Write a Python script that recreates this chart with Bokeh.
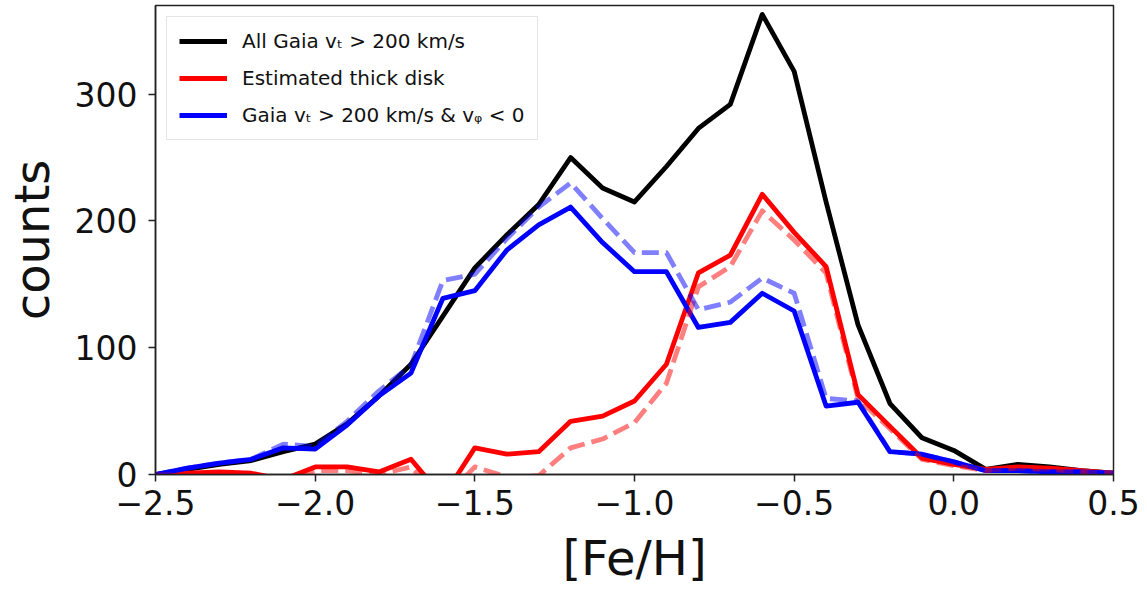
from bokeh.plotting import figure
from bokeh.models import Range1d, FixedTicker, Legend, LegendItem, ColumnDataSource
from bokeh.embed import file_html
from bokeh.resources import INLINE

# ---------------- data ----------------
feh = [round(-2.5 + 0.1 * i, 1) for i in range(31)]

all_gaia = [0, 4, 8, 11, 18, 24, 40, 62, 87, 125, 163, 189, 213, 250, 226, 215,
            243, 273, 292, 363, 318, 215, 118, 56, 29, 19, 4, 8, 6, 3, 1]

thick_disk = [0, 1, 2, 1, -4, 6, 6, 2, 12, -18, 21, 16, 18, 42, 46, 58,
              87, 159, 173, 221, 191, 164, 63, 38, 13, 8, 4, 6, 5, 3, 1]
thick_disk_alt = [0, 0, 1, 0, -5, 3, 3, 0, 6, -20, 6, -2, -1, 21, 28, 41,
                  72, 148, 164, 208, 185, 159, 60, 36, 12, 7, 3, 5, 4, 2, 1]

retro = [0, 5, 9, 12, 21, 20, 39, 62, 80, 139, 145, 177, 197, 211, 183, 160,
         160, 116, 120, 143, 129, 54, 57, 18, 16, 10, 3, 3, 2, 2, 1]
retro_alt = [0, 5, 9, 12, 24, 22, 42, 66, 86, 153, 158, 186, 211, 230, 202, 175,
             175, 130, 136, 155, 143, 60, 58, 18, 16, 10, 3, 3, 2, 2, 1]

x_ticks = [-2.5, -2.0, -1.5, -1.0, -0.5, 0.0, 0.5]
x_tick_labels = ["\u22122.5", "\u22122.0", "\u22121.5", "\u22121.0", "\u22120.5", "0.0", "0.5"]
y_ticks = [0, 100, 200, 300]

labels = ["All Gaia v\u209c > 200 km/s",
          "Estimated thick disk",
          "Gaia v\u209c > 200 km/s & v\u1d69 < 0"]

src = ColumnDataSource(dict(x=feh, all=all_gaia, td=thick_disk, td2=thick_disk_alt,
                            rt=retro, rt2=retro_alt))

# ---------------- figure ----------------
FONT = "DejaVu Sans"
p = figure(width=1147, height=595, output_backend="svg", toolbar_location=None,
           x_range=Range1d(-2.5, 0.5), y_range=Range1d(0, 370),
           min_border_left=154, min_border_right=34, min_border_top=5, min_border_bottom=121)
p.background_fill_color = "white"
p.border_fill_color = "white"
p.outline_line_color = "#222222"
p.outline_line_width = 1.5
p.grid.visible = False

lw = 4.8
r_all = p.line("x", "all", source=src, line_color="black", line_width=lw, line_join="round")
r_td = p.line("x", "td", source=src, line_color="#ff0000", line_width=lw, line_join="round")
r_rt = p.line("x", "rt", source=src, line_color="#0000ff", line_width=lw, line_join="round")
p.line("x", "td2", source=src, line_color="#ff0000", line_alpha=0.5, line_width=lw,
       line_dash="17 7", line_join="round")
p.line("x", "rt2", source=src, line_color="#0000ff", line_alpha=0.5, line_width=lw,
       line_dash="17 7", line_join="round")

# axes
p.xaxis.ticker = FixedTicker(ticks=x_ticks)
p.xaxis.major_label_overrides = {t: l for t, l in zip(x_ticks, x_tick_labels)}
p.yaxis.ticker = FixedTicker(ticks=y_ticks)
for ax in (p.xaxis, p.yaxis):
    ax.minor_tick_line_color = None
    ax.major_tick_in = 0
    ax.major_tick_out = 7
    ax.major_tick_line_width = 1.5
    ax.major_tick_line_color = "#222222"
    ax.axis_line_color = "#222222"
    ax.axis_line_width = 1.5
    ax.major_label_text_font = FONT
    ax.major_label_text_font_size = "33px"
    ax.major_label_text_color = "#111111"
    ax.axis_label_text_font = FONT
    ax.axis_label_text_font_size = "48px"
    ax.axis_label_text_font_style = "normal"
    ax.axis_label_text_color = "#111111"
p.xaxis.axis_label = "[Fe/H]"
p.yaxis.axis_label = "counts"
p.xaxis.major_label_standoff = 8
p.yaxis.major_label_standoff = 11
p.xaxis.axis_label_standoff = 12
p.yaxis.axis_label_standoff = 12

legend = Legend(items=[LegendItem(label=labels[0], renderers=[r_all]),
                       LegendItem(label=labels[1], renderers=[r_td]),
                       LegendItem(label=labels[2], renderers=[r_rt])],
                location="top_left", margin=11, padding=12, spacing=13,
                glyph_width=48, glyph_height=24, label_height=24, label_standoff=15,
                label_text_font=FONT, label_text_font_size="20px", label_text_color="#111111",
                border_line_color="#cccccc", border_line_width=1.5,
                background_fill_color="white", background_fill_alpha=0.8)
p.add_layout(legend)

open("out.html", "w").write(file_html(p, INLINE))
